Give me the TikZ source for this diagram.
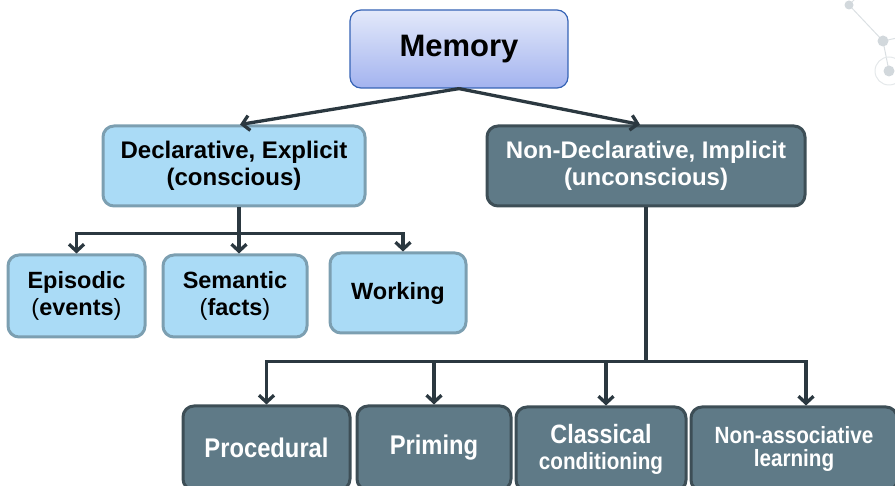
\documentclass[tikz,border=0pt]{standalone}
\usepackage{fontspec}
\setmainfont{Liberation Sans}
\newfontfamily\narrowfont{Liberation Sans}[FakeStretch=0.88]
\usetikzlibrary{arrows.meta,calc}

\definecolor{memtop}{HTML}{E3E9FA}
\definecolor{membot}{HTML}{A3B3EF}
\definecolor{memedge}{HTML}{3563B5}
\definecolor{lightfill}{HTML}{AADBF6}
\definecolor{lightedge}{HTML}{7C9FB1}
\definecolor{darkfill}{HTML}{5F7A87}
\definecolor{darkedge}{HTML}{3D4E56}
\definecolor{wire}{HTML}{2B3840}
\definecolor{deco}{HTML}{D2D8DC}

\tikzset{
  membox/.style={draw=memedge, line width=1.2pt, rounded corners=11pt,
    top color=memtop, bottom color=membot, inner sep=0pt, align=center,
    font=\bfseries\fontsize{31}{34}\selectfont},
  lightbox/.style={draw=lightedge, line width=3pt, rounded corners=11pt,
    fill=lightfill, inner sep=0pt, align=center,
    font=\bfseries\fontsize{23.5}{27}\selectfont},
  darkbox/.style={draw=darkedge, line width=3pt, rounded corners=11pt,
    fill=darkfill, text=white, inner sep=0pt, align=center},
  wireline/.style={draw=wire, line width=3.3pt},
  arrowline/.style={wireline, -{Straight Barb[length=7pt,width=15pt,line width=3.3pt]}},
}

\begin{document}
\begin{tikzpicture}[x=1pt,y=-1pt]
\useasboundingbox (0,0) rectangle (895,486);
\clip (0,0) rectangle (895,486);

% network ornament in the corner
\draw[deco!80, line width=1pt] (849,5) -- (883,41) -- (889,71);
\draw[deco!80, line width=1pt] (883,41) -- (897,38);
\draw[deco!80, line width=1pt] (849,5) -- (856,-2);
\draw[deco!60, line width=1pt] (889,71) circle (14);
\fill[deco] (849,5) circle (4.5) (883,41) circle (5.5) (889,71) circle (5.5);

% top level
\node[membox, minimum width=218, minimum height=78] (mem) at (459,49) {Memory};

% second level
\node[lightbox, minimum width=262, minimum height=80,
  font=\bfseries\fontsize{24}{27}\selectfont] (decl) at (234,166)
  {Declarative, Explicit\\(conscious)};
\node[darkbox, minimum width=318, minimum height=80,
  font=\bfseries\fontsize{24}{27}\selectfont] (nondecl) at (646,166)
  {Non-Declarative, Implicit\\(unconscious)};

% explicit memory kinds
\node[lightbox, minimum width=137, minimum height=82] (epi) at (76.5,296)
  {Episodic\\{\mdseries(}events{\mdseries)}};
\node[lightbox, minimum width=144, minimum height=82] (sem) at (235,296)
  {Semantic\\{\mdseries(}facts{\mdseries)}};
\node[lightbox, minimum width=136, minimum height=80] (work) at (398,293)
  {Working};

% implicit memory kinds
\node[darkbox, minimum width=167, minimum height=84,
  font=\narrowfont\bfseries\fontsize{27}{30}\selectfont] (proc) at (266.5,448) {Procedural};
\node[darkbox, minimum width=154, minimum height=84,
  font=\narrowfont\bfseries\fontsize{27}{30}\selectfont] (prim) at (434,448) {Priming};
\node[darkbox, minimum width=170, minimum height=84,
  font=\narrowfont\bfseries\fontsize{23.5}{26}\selectfont] (class) at (601,449)
  {{\fontsize{26.5}{26}\selectfont Classical}\\conditioning};
\node[darkbox, minimum width=206, minimum height=84,
  font=\narrowfont\bfseries\fontsize{23.5}{23}\selectfont] (nonassoc) at (794,449)
  {Non-associative\\learning};

% connectors from the root
\draw[arrowline] (mem.south) -- ($(decl.north)+(6,0)$);
\draw[arrowline] (mem.south) -- ($(nondecl.north)+(-6,0)$);

% explicit branch
\draw[wireline] ($(decl.south)+(5,0)$) -- ++(0,26) coordinate (dbus);
\draw[arrowline] (dbus) -| (epi.north);
\draw[arrowline] (dbus) -| ($(sem.north)+(4,0)$);
\draw[arrowline] (dbus) -| ($(work.north)+(5,0)$);

% implicit branch
\draw[wireline] (nondecl.south) -- ++(0,154) coordinate (nbus);
\draw[arrowline] (nbus) -| (proc.north);
\draw[arrowline] (nbus) -| (prim.north);
\draw[arrowline] (nbus) -| ($(class.north)+(5,0)$);
\draw[arrowline] (nbus) -| ($(nonassoc.north)+(12,0)$);
\end{tikzpicture}
\end{document}
